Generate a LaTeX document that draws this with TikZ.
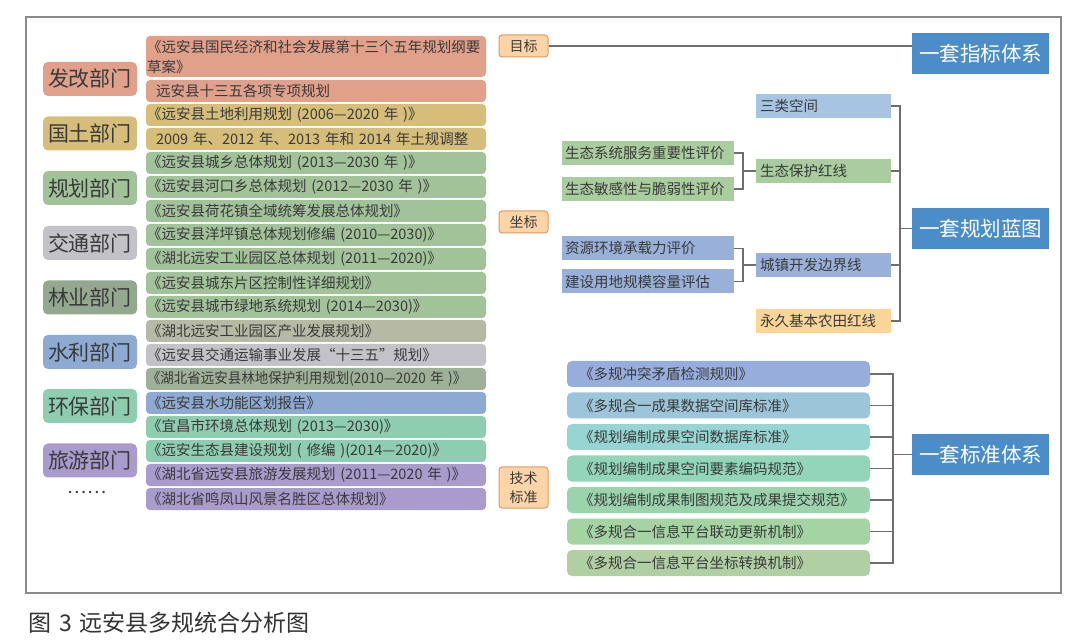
\documentclass[tikz,border=0pt]{standalone}
\usepackage{fontspec}
\usepackage{graphicx}
\setmainfont{Noto Sans CJK SC}
\usetikzlibrary{calc}
\definecolor{txt}{HTML}{3A3A3A}
\definecolor{cap}{HTML}{333333}
\definecolor{framec}{HTML}{8A8A8A}
\definecolor{linec}{HTML}{6E6E6E}
\definecolor{cfagai}{HTML}{E0A08A}
\definecolor{cguotu}{HTML}{D6BE7A}
\definecolor{cguihua}{HTML}{A2C29A}
\definecolor{cjiaotong}{HTML}{C2C2C8}
\definecolor{clinye}{HTML}{94A890}
\definecolor{cshuili}{HTML}{8EAAD2}
\definecolor{chuanbao}{HTML}{8ECDB0}
\definecolor{clvyou}{HTML}{A99BCC}
\definecolor{crowtw}{HTML}{B6B9A3}
\definecolor{crowft}{HTML}{9EB097}
\definecolor{midfill}{HTML}{FDD3A8}
\definecolor{midedge}{HTML}{E49A5A}
\definecolor{csanlei}{HTML}{A7C5E2}
\definecolor{cgreen}{HTML}{A9CD9E}
\definecolor{cblue}{HTML}{99B1DA}
\definecolor{cnong}{HTML}{FAD597}
\definecolor{cbig}{HTML}{4A8DC8}
\definecolor{sa}{HTML}{97AEDC}
\definecolor{sb}{HTML}{9DC5D9}
\definecolor{sc}{HTML}{96D5D2}
\definecolor{sd}{HTML}{92D5BA}
\definecolor{se}{HTML}{9AD3AC}
\definecolor{sf}{HTML}{A4D3A4}
\definecolor{sg}{HTML}{B0CFA2}
\tikzset{
  dept/.style={rounded corners=5pt, minimum width=94pt, minimum height=34pt, inner sep=0pt,
    font=\fontsize{21}{24}\selectfont, text=txt},
  rowbox/.style={rounded corners=4pt, minimum height=22pt, text width=338pt, inner xsep=1pt,
    inner ysep=0pt, align=left, font=\fontsize{14.5}{20}\selectfont, text=txt},
  midlabel/.style={rounded corners=3pt, draw=midedge, line width=1pt, fill=midfill,
    minimum width=49pt, minimum height=22pt, inner sep=0pt, align=center,
    font=\fontsize{14}{19}\selectfont, text=txt},
  bigbox/.style={fill=cbig, minimum width=137pt, minimum height=41pt, inner sep=0pt,
    font=\fontsize{20.5}{24}\selectfont, text=white},
  subbox/.style={minimum height=24pt, text width=166pt, inner xsep=3pt, inner ysep=0pt,
    align=left, font=\fontsize{14.5}{17}\selectfont, text=txt},
  midbox/.style={minimum height=24pt, text width=127pt, inner xsep=4pt, inner ysep=0pt,
    align=left, font=\fontsize{14.5}{17}\selectfont, text=txt},
  stdbox/.style={rounded corners=5pt, minimum height=26pt, text width=279pt, inner xsep=12pt,
    inner ysep=0pt, align=left, font=\fontsize{14.5}{17}\selectfont, text=txt},
  conn/.style={draw=linec, line width=1.4pt},
}
\begin{document}
\begin{tikzpicture}[x=1pt,y=-1pt]
\useasboundingbox (0,0) rectangle (1080,644);
\draw[framec, line width=1.5pt] (26,17) rectangle (1061,593);

% departments
\node[dept, fill=cfagai]   (d1) at (90,79)    {发改部门};
\node[dept, fill=cguotu]   (d2) at (90,133.5) {国土部门};
\node[dept, fill=cguihua]  (d3) at (90,188)   {规划部门};
\node[dept, fill=cjiaotong](d4) at (90,243)   {交通部门};
\node[dept, fill=clinye]   (d5) at (90,297.5) {林业部门};
\node[dept, fill=cshuili]  (d6) at (90,352)   {水利部门};
\node[dept, fill=chuanbao] (d7) at (90,406)   {环保部门};
\node[dept, fill=clvyou]   (d8) at (90,460.5) {旅游部门};
\node[font=\fontsize{18}{20}\selectfont, text=txt, inner sep=0pt] (dots) at (87,492) {……};

% plan list
\node[rowbox, fill=cfagai, minimum height=41pt] (r1) at (316,56.5) {《远安县国民经济和社会发展第十三个五年规划纲要\\草案》};
\node[rowbox, fill=cfagai]   (r2)  at (316,91)  {\hspace*{9pt}远安县十三五各项专项规划};
\node[rowbox, fill=cguotu]   (r3)  at (316,115) {《远安县土地利用规划 (2006—2020 年 )》};
\node[rowbox, fill=cguotu]   (r4)  at (316,139) {\hspace*{9pt}2009 年、2012 年、2013 年和 2014 年土规调整};
\node[rowbox, fill=cguihua]  (r5)  at (316,163) {《远安县城乡总体规划 (2013—2030 年 )》};
\node[rowbox, fill=cguihua]  (r6)  at (316,187) {《远安县河口乡总体规划 (2012—2030 年 )》};
\node[rowbox, fill=cguihua]  (r7)  at (316,211) {《远安县荷花镇全域统筹发展总体规划》};
\node[rowbox, fill=cguihua]  (r8)  at (316,235) {《远安县洋坪镇总体规划修编 (2010—2030)》};
\node[rowbox, fill=cguihua]  (r9)  at (316,259) {《湖北远安工业园区总体规划 (2011—2020)》};
\node[rowbox, fill=cguihua]  (r10) at (316,283) {《远安县城东片区控制性详细规划》};
\node[rowbox, fill=cguihua]  (r11) at (316,307) {《远安县城市绿地系统规划 (2014—2030)》};
\node[rowbox, fill=crowtw]   (r12) at (316,331) {《湖北远安工业园区产业发展规划》};
\node[rowbox, fill=cjiaotong](r13) at (316,355) {《远安县交通运输事业发展“十三五”规划》};
\node[rowbox, fill=crowft]   (r14) at (316,379) {\scalebox{0.93}[1]{《湖北省远安县林地保护利用规划(2010—2020 年 )》}};
\node[rowbox, fill=cshuili]  (r15) at (316,403) {《远安县水功能区划报告》};
\node[rowbox, fill=chuanbao] (r16) at (316,427) {《宜昌市环境总体规划 (2013—2030)》};
\node[rowbox, fill=chuanbao] (r17) at (316,451) {《远安生态县建设规划 ( 修编 )(2014—2020)》};
\node[rowbox, fill=clvyou]   (r18) at (316,475) {《湖北省远安县旅游发展规划 (2011—2020 年 )》};
\node[rowbox, fill=clvyou]   (r19) at (316,499) {《湖北省鸣凤山风景名胜区总体规划》};

% middle labels
\node[midlabel] (mubiao) at (523.5,46)  {目标};
\node[midlabel] (zuobiao) at (523.5,222) {坐标};
\node[midlabel, minimum height=41pt] (jishu) at (523.5,487.5) {技术\\标准};

% big boxes
\node[bigbox] (zhibiao)  at (980.5,53.5)  {一套指标体系};
\node[bigbox] (lantu)    at (980.5,228.5) {一套规划蓝图};
\node[bigbox] (biaozhun) at (980.5,454.5) {一套标准体系};

% blueprint parts
\node[subbox, fill=cgreen] (e1) at (648,153)   {生态系统服务重要性评价};
\node[subbox, fill=cgreen] (e2) at (648,189)   {生态敏感性与脆弱性评价};
\node[subbox, fill=cblue]  (b1) at (648,248.5) {资源环境承载力评价};
\node[subbox, fill=cblue]  (b2) at (648,281.5) {建设用地规模容量评估};
\node[midbox, fill=csanlei] (sanlei)    at (823.5,106) {三类空间};
\node[midbox, fill=cgreen]  (hong)      at (823.5,171) {生态保护红线};
\node[midbox, fill=cblue]   (chengzhen) at (823.5,265) {城镇开发边界线};
\node[midbox, fill=cnong]   (nongtian)  at (823.5,321) {永久基本农田红线};

% standards
\node[stdbox, fill=sa] (s1) at (718.5,374)   {《多规冲突矛盾检测规则》};
\node[stdbox, fill=sb] (s2) at (718.5,405.5) {《多规合一成果数据空间库标准》};
\node[stdbox, fill=sc] (s3) at (718.5,437)   {《规划编制成果空间数据库标准》};
\node[stdbox, fill=sd] (s4) at (718.5,468.5) {《规划编制成果空间要素编码规范》};
\node[stdbox, fill=se] (s5) at (718.5,500)   {《规划编制成果制图规范及成果提交规范》};
\node[stdbox, fill=sf] (s6) at (718.5,531.5) {《多规合一信息平台联动更新机制》};
\node[stdbox, fill=sg] (s7) at (718.5,563)   {《多规合一信息平台坐标转换机制》};

% connectors
\coordinate (bl) at (743,0);
\coordinate (br) at (900,0);
\coordinate (bs) at (893,0);
\draw[conn] (mubiao.east) -- (mubiao.east -| zhibiao.west);
\draw[conn] (e1.east) -- (e1.east -| bl) |- (hong.west);
\draw[conn] (e2.east) -- (e2.east -| bl) |- (hong.west);
\draw[conn] (b1.east) -- (b1.east -| bl) |- (chengzhen.west);
\draw[conn] (b2.east) -- (b2.east -| bl) |- (chengzhen.west);
\draw[conn] (sanlei.east) -- (sanlei.east -| br) -- (nongtian.east -| br) -- (nongtian.east);
\draw[conn] (hong.east) -- (hong.east -| br);
\draw[conn] (chengzhen.east) -- (chengzhen.east -| br);
\draw[conn] (lantu.west -| br) -- (lantu.west);
\draw[conn] (s1.east) -- (s1.east -| bs) -- (s7.east -| bs) -- (s7.east);
\foreach \s in {s2,s3,s4,s5,s6} \draw[conn] (\s.east) -- (\s.east -| bs);
\draw[conn] (biaozhun.west -| bs) -- (biaozhun.west);

% caption
\node[anchor=west, inner sep=0pt, font=\fontsize{23}{26}\selectfont, text=cap] (caption) at (28,623) {图\hspace{8pt}3\hspace{8pt}远安县多规统合分析图};
\end{tikzpicture}
\end{document}
